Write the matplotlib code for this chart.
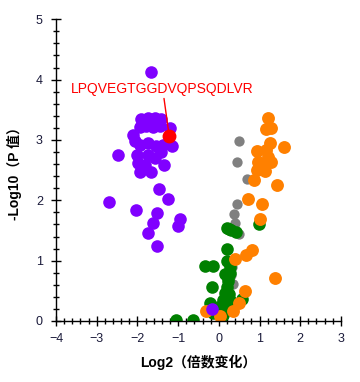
import numpy as np
import matplotlib.pyplot as plt
from matplotlib.ticker import MultipleLocator

plt.rcParams['font.family'] = ['Liberation Sans', 'Noto Sans CJK SC', 'DejaVu Sans']

# 下调 (紫色)
down_x = [-1.67, -1.92, -1.74, -1.57, -1.43, -1.94, -1.79, -1.62, -1.45, -1.20,
          -2.11, -2.06, -1.94, -1.74, -1.55, -1.38, -1.15, -2.48, -2.01, -1.74,
          -1.57, -1.43, -1.99, -1.82, -1.35, -1.94, -1.67, -1.47, -1.25, -2.70,
          -2.04, -1.52, -1.62, -1.74, -0.96, -1.01, -1.52, -0.17]
down_y = [4.13, 3.35, 3.37, 3.37, 3.35, 3.22, 3.23, 3.22, 3.23, 3.20,
          3.08, 2.99, 2.92, 2.95, 2.90, 2.92, 2.90, 2.75, 2.75, 2.75,
          2.70, 2.80, 2.62, 2.59, 2.59, 2.47, 2.47, 2.19, 2.02, 1.97,
          1.84, 1.79, 1.63, 1.46, 1.69, 1.58, 1.24, 0.20]

# 上调 (橙色)
up_x = [1.20, 1.15, 1.28, 1.25, 1.60, 0.93, 1.17, 1.21, 0.97, 1.29,
        1.05, 0.93, 1.13, 0.87, 1.42, 0.72, 1.06, 1.01, 0.82, 0.68,
        0.39, 1.38, 0.64, 0.50, 0.34, -0.32, 0.02]
up_y = [3.36, 3.18, 3.20, 2.95, 2.88, 2.81, 2.84, 2.72, 2.64, 2.63,
        2.56, 2.50, 2.48, 2.34, 2.26, 2.02, 1.94, 1.69, 1.17, 1.09,
        1.02, 0.72, 0.50, 0.29, 0.17, 0.17, 0.08]

# 倍数变化显著但P值不显著 (灰色)
ns_x = [0.49, 0.45, 0.70, 0.45, 0.38, 0.39, 0.50, 0.33, 0.29, 0.34]
ns_y = [2.99, 2.63, 2.35, 1.94, 1.77, 1.63, 1.45, 0.90, 0.76, 0.62]

# 无变化 (绿色)
nc_x = [0.99, 0.19, 0.31, 0.43, 0.24, 0.20, 0.20, 0.27, -0.34, -0.14,
        0.23, 0.15, -0.16, 0.19, 0.15, 0.11, 0.27, 0.56, -0.22, -0.02,
        -0.14, 0.20, 0.25, -0.63, -1.05, 0.28, 0.22, 0.10]
nc_y = [1.61, 1.54, 1.51, 1.47, 1.52, 1.19, 0.99, 0.90, 0.91, 0.91,
        0.66, 0.78, 0.57, 0.57, 0.46, 0.35, 0.35, 0.36, 0.29, 0.24,
        0.13, 0.25, 0.45, 0.02, 0.01, 0.80, 0.72, 0.10]

# 标注肽段
hl_name = 'LPQVEGTGGDVQPSQDLVR'
hl_x, hl_y = -1.22, 3.07

fig = plt.figure(figsize=(3.6, 3.82), dpi=100)
ax = fig.add_axes([0.1556, 0.1597, 0.7914, 0.7898])

ax.scatter(ns_x, ns_y, s=55, color='#808080', linewidths=0, zorder=2)
ax.scatter(nc_x, nc_y, s=82, color='#008000', linewidths=0, zorder=2)
ax.scatter(up_x, up_y, s=86, color='#FF8000', linewidths=0, zorder=2)
ax.scatter(down_x, down_y, s=82, color='#8000FF', linewidths=0, zorder=2)
ax.scatter([hl_x], [hl_y], s=100, color='#FF0000', linewidths=0, zorder=5)

ax.annotate(hl_name, xy=(hl_x, hl_y), xytext=(-1.38, 3.85),
            ha='center', va='center', color='#FF0000', fontsize=10,
            arrowprops=dict(arrowstyle='-', color='#FF0000', lw=1,
                            shrinkA=0, shrinkB=0), zorder=4)

ax.set_xlim(-4, 3)
ax.set_ylim(0, 5)
ax.xaxis.set_major_locator(MultipleLocator(1))
ax.xaxis.set_minor_locator(MultipleLocator(0.2))
ax.yaxis.set_major_locator(MultipleLocator(1))
ax.yaxis.set_minor_locator(MultipleLocator(0.2))

for side in ['top', 'right']:
    ax.spines[side].set_visible(False)
for side in ['left', 'bottom']:
    ax.spines[side].set_linewidth(1.0)

ax.tick_params(which='major', direction='inout', length=7, width=1,
               labelsize=9, labelcolor='#1a1a3a')
ax.tick_params(which='minor', direction='inout', length=4.3, width=1)
ax.tick_params(axis='y', which='major', pad=6)
ax.tick_params(axis='x', which='major', pad=5)

ax.set_xlabel('Log2（倍数变化）', fontsize=10, fontweight='bold', labelpad=7)
ax.set_ylabel('-Log10（P 值）', fontsize=10, fontweight='bold', labelpad=10)

fig.set_facecolor('white')
fig.savefig('out.png', dpi=100)
